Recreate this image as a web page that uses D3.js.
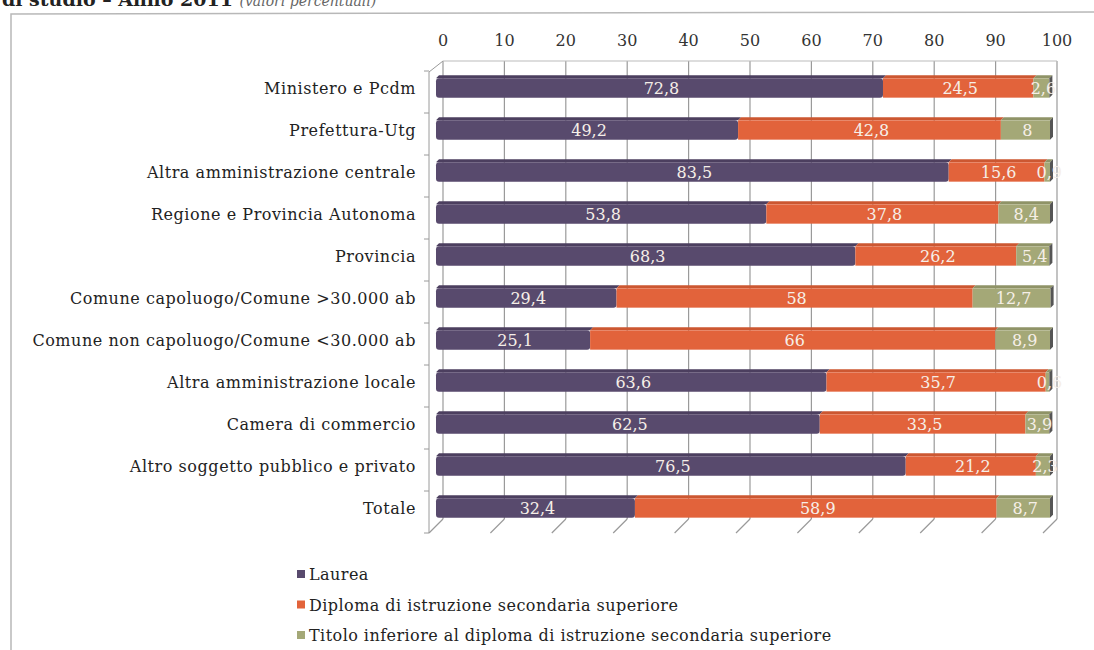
<!DOCTYPE html>
<html>
<head>
<meta charset="utf-8">
<script src="https://cdn.jsdelivr.net/npm/d3@7"></script>
<style>
  body { margin: 0; background: #fff; }
  svg { display: block; }
  text { font-family: "DejaVu Serif", serif; }
</style>
</head>
<body>
<svg id="chart" width="1094" height="650"></svg>
<script>
// categorie (dall'alto in basso)
var categories = [
    "Ministero e Pcdm",
    "Prefettura-Utg",
    "Altra amministrazione centrale",
    "Regione e Provincia Autonoma",
    "Provincia",
    "Comune capoluogo/Comune >30.000  ab",
    "Comune non capoluogo/Comune <30.000  ab",
    "Altra amministrazione locale",
    "Camera di commercio",
    "Altro soggetto pubblico e privato",
    "Totale"
];
var laurea   = [72.8, 49.2, 83.5, 53.8, 68.3, 29.4, 25.1, 63.6, 62.5, 76.5, 32.4];
var diploma  = [24.5, 42.8, 15.6, 37.8, 26.2, 58, 66, 35.7, 33.5, 21.2, 58.9];
var inferiore = [2.6, 8, 0.9, 8.4, 5.4, 12.7, 8.9, 0.6, 3.9, 2.3, 8.7];
var seriesNames = [
    "Laurea",
    "Diploma di istruzione secondaria superiore",
    "Titolo inferiore al diploma di istruzione secondaria superiore"
];
var xTicks = [0, 10, 20, 30, 40, 50, 60, 70, 80, 90, 100];

var colors = ["#584a6d", "#e2633b", "#a4a877"];
var topColors = ["#4c3f5f", "#cc5731", "#8f9367"];

var svg = d3.select("#chart");

// titolo (tagliato in alto come nella scansione)
var title = svg.append("text")
    .attr("x", 2)
    .attr("y", 6)
    .attr("font-size", "19px");
title.append("tspan")
    .attr("font-weight", "bold")
    .attr("fill", "#222")
    .text("di studio \u2013 Anno 2011 ");
title.append("tspan")
    .attr("font-style", "italic")
    .attr("fill", "#666")
    .attr("font-size", "14px")
    .text("(valori percentuali)");

// cornice
svg.append("path")
    .attr("d", "M11,650 L11,14 L1094,12")
    .attr("fill", "none")
    .attr("stroke", "#b8b8b8")
    .attr("stroke-width", 1.5);

// scale: piano di fondo (griglia) e piano frontale (barre)
var xBack = d3.scaleLinear().domain([0, 100]).range([443, 1057]);
var xBar = d3.scaleLinear().domain([0, 100]).range([436, 1050]);
var y = d3.scaleBand().domain(categories).range([67, 529]).paddingInner(0.54).paddingOuter(0.27);

var dx = -14, dy = 14;
var backTop = 61, backBottom = 519;

// griglia verticale sul fondo
var grid = svg.append("g");
grid.selectAll("line.g")
    .data(xTicks)
    .enter().append("line")
    .attr("x1", function (d) { return xBack(d); })
    .attr("x2", function (d) { return xBack(d); })
    .attr("y1", backTop)
    .attr("y2", backBottom)
    .attr("stroke", "#9a9a9a")
    .attr("stroke-width", 1.2);
// diagonali del pavimento
grid.selectAll("line.f")
    .data(xTicks)
    .enter().append("line")
    .attr("x1", function (d) { return xBack(d); })
    .attr("x2", function (d) { return xBack(d) + dx; })
    .attr("y1", backBottom)
    .attr("y2", backBottom + dy)
    .attr("stroke", "#9a9a9a")
    .attr("stroke-width", 1.2);
// bordo superiore del fondo
grid.append("line")
    .attr("x1", xBack(0)).attr("x2", xBack(100))
    .attr("y1", backTop).attr("y2", backTop)
    .attr("stroke", "#bbb");
// parete sinistra
grid.append("line")
    .attr("x1", xBack(0)).attr("x2", xBack(0) + dx)
    .attr("y1", backTop).attr("y2", backTop + dy - 3)
    .attr("stroke", "#9a9a9a");
grid.append("line")
    .attr("x1", xBack(0) + dx).attr("x2", xBack(0) + dx)
    .attr("y1", backTop + dy - 3).attr("y2", backBottom + dy)
    .attr("stroke", "#9a9a9a");
var wallTicks = categories.map(function (c) { return y(c) - (y.step() - y.bandwidth()) / 2; });
wallTicks.push(y(categories[categories.length - 1]) + y.bandwidth() + (y.step() - y.bandwidth()) / 2);
grid.selectAll("line.w")
    .data(wallTicks)
    .enter().append("line")
    .attr("x1", xBack(0) + dx - 5)
    .attr("x2", xBack(0) + dx)
    .attr("y1", function (d) { return d + 4; })
    .attr("y2", function (d) { return d + 4; })
    .attr("stroke", "#9a9a9a");

// asse superiore
svg.append("g").selectAll("text")
    .data(xTicks)
    .enter().append("text")
    .attr("x", function (d) { return xBack(d); })
    .attr("y", 46)
    .attr("text-anchor", "middle")
    .attr("font-size", "16px")
    .attr("fill", "#333")
    .text(function (d) { return d; });

// etichette categorie
svg.append("g").selectAll("text")
    .data(categories)
    .enter().append("text")
    .attr("x", 416)
    .attr("y", function (d) { return y(d) + y.bandwidth() / 2 + 6; })
    .attr("text-anchor", "end")
    .attr("font-size", "16px")
    .attr("letter-spacing", "0.55px")
    .attr("fill", "#222")
    .text(function (d) { return d; });

// dati impilati
var rows = categories.map(function (c, i) {
    return { cat: c, s0: laurea[i], s1: diploma[i], s2: inferiore[i] };
});
var stack = d3.stack().keys(["s0", "s1", "s2"]);
var series = stack(rows);

var depth = 3;
var bars = svg.append("g");
series.forEach(function (s, si) {
    var g = bars.append("g");
    // faccia superiore
    g.selectAll("path.top")
        .data(s)
        .enter().append("path")
        .attr("d", function (d) {
            var x0 = xBar(d[0]), x1 = xBar(d[1]), yt = y(d.data.cat);
            return "M" + x0 + "," + yt + "L" + (x0 + depth) + "," + (yt - depth) +
                "L" + (x1 + depth) + "," + (yt - depth) + "L" + x1 + "," + yt + "Z";
        })
        .attr("fill", topColors[si]);
    // faccia frontale
    g.selectAll("rect")
        .data(s)
        .enter().append("rect")
        .attr("x", function (d) { return xBar(d[0]); })
        .attr("y", function (d) { return y(d.data.cat); })
        .attr("width", function (d) { return xBar(d[1]) - xBar(d[0]); })
        .attr("height", y.bandwidth())
        .attr("rx", si === 0 ? 3 : 0)
        .attr("fill", colors[si]);
});
// lato destro scuro
bars.selectAll("path.side")
    .data(series[2])
    .enter().append("path")
    .attr("d", function (d) {
        var x1 = xBar(d[1]), yt = y(d.data.cat), yb = yt + y.bandwidth();
        return "M" + x1 + "," + yt + "L" + (x1 + depth) + "," + (yt - depth) +
            "L" + (x1 + depth) + "," + (yb - depth) + "L" + x1 + "," + yb + "Z";
    })
    .attr("fill", "#555");

// etichette valori
var fmt = function (v) { return String(v).replace(".", ","); };
series.forEach(function (s) {
    svg.append("g").selectAll("text")
        .data(s)
        .enter().append("text")
        .attr("x", function (d) { return (xBar(d[0]) + xBar(d[1])) / 2 + 2; })
        .attr("y", function (d) { return y(d.data.cat) + y.bandwidth() / 2 + 6; })
        .attr("text-anchor", "middle")
        .attr("font-size", "16px")
        .attr("fill", "#f6efe8")
        .text(function (d) { return fmt(+(d[1] - d[0]).toFixed(1)); });
});

// legenda
var legend = svg.append("g").selectAll("g")
    .data(seriesNames)
    .enter().append("g")
    .attr("transform", function (d, i) { return "translate(297," + (575 + i * 30.5) + ")"; });
legend.append("rect")
    .attr("x", 0).attr("y", -5)
    .attr("width", 8).attr("height", 8)
    .attr("fill", function (d, i) { return colors[i]; });
legend.append("text")
    .attr("x", 12)
    .attr("y", 5)
    .attr("font-size", "16px")
    .attr("letter-spacing", "0.45px")
    .attr("fill", "#222")
    .text(function (d) { return d; });
</script>
</body>
</html>
